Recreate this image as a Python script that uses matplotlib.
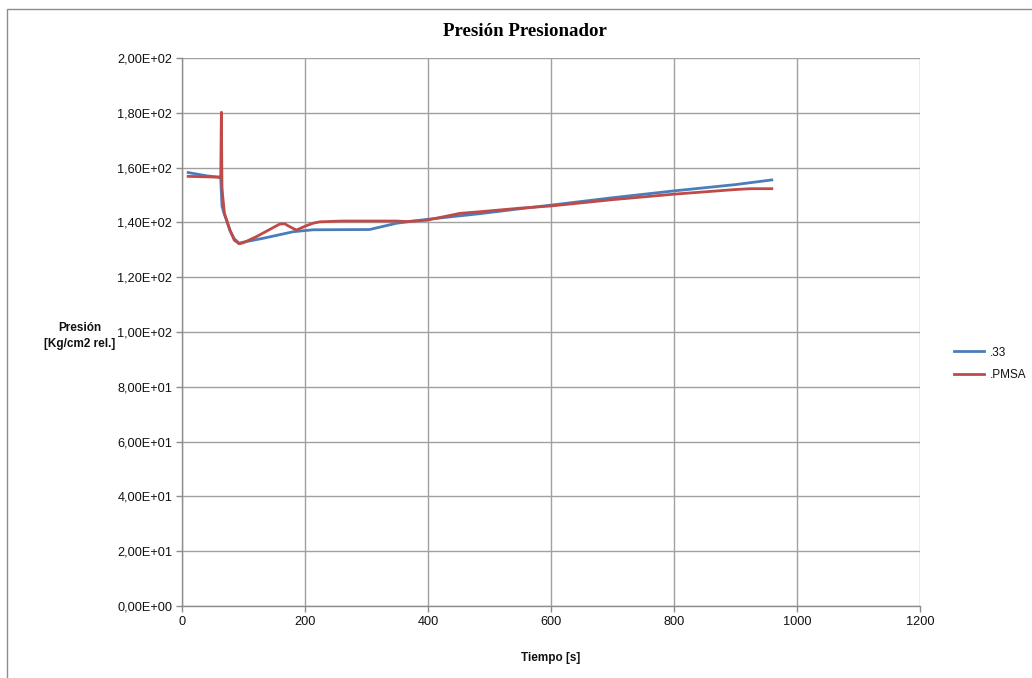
import matplotlib
matplotlib.use("Agg")
import matplotlib.pyplot as plt
from matplotlib.patches import Rectangle
from matplotlib.ticker import FuncFormatter, MultipleLocator

# Series ".33"
t_33 = [10, 40, 60, 63, 65, 68, 72, 78, 85, 93, 100, 132, 181, 213, 305,
        349, 398, 485, 550, 600, 700, 800, 900, 959]
p_33 = [158.2, 157.0, 156.5, 156.0, 146.0, 143.5, 141.0, 137.0, 134.0, 132.4,
        132.8, 134.2, 136.6, 137.3, 137.4, 139.7, 141.1, 143.2, 145.0, 146.3,
        149.0, 151.5, 153.8, 155.5]

# Series ".PMSA"
t_pmsa = [10, 62, 63, 64, 65, 66, 69, 78, 85, 93, 100, 121, 159, 167, 173,
          186, 200, 213, 224, 260, 349, 365, 398, 452, 485, 550, 600, 700,
          800, 900, 924, 959]
p_pmsa = [156.8, 156.5, 156.5, 180.2, 153.0, 150.0, 143.3, 137.2, 133.5,
          132.2, 132.6, 134.8, 139.4, 139.5, 138.7, 137.2, 138.6, 139.7, 140.2,
          140.5, 140.5, 140.3, 140.8, 143.3, 143.9, 145.2, 146.0, 148.3, 150.3,
          152.0, 152.3, 152.3]

series_names = [".33", ".PMSA"]
series_colors = ["#4a7ebb", "#be4b48"]

title = "Presión Presionador"
x_label = "Tiempo [s]"
y_label = "Presión\n[Kg/cm2 rel.]"

sans = ["Liberation Sans", "DejaVu Sans"]

fig = plt.figure(figsize=(10.32, 6.78), dpi=100)
fig.patch.set_facecolor("white")

# chart-area border
fig.add_artist(Rectangle((7 / 1032, -0.05), 1.1, 1 - 9 / 678 + 0.05,
                         transform=fig.transFigure, fill=False,
                         edgecolor="#8c8c8c", linewidth=1.0))

ax = fig.add_axes([182 / 1032, 1 - 606 / 678, (920 - 182) / 1032, (606 - 58) / 678])

ax.plot(t_33, p_33, color=series_colors[0], linewidth=2.0, label=series_names[0],
        solid_joinstyle="round", zorder=3)
ax.plot(t_pmsa, p_pmsa, color=series_colors[1], linewidth=2.0, label=series_names[1],
        solid_joinstyle="round", zorder=4)

ax.set_xlim(0, 1200)
ax.set_ylim(0, 200)
ax.xaxis.set_major_locator(MultipleLocator(200))
ax.yaxis.set_major_locator(MultipleLocator(20))
ax.yaxis.set_major_formatter(FuncFormatter(lambda v, _: f"{v:.2E}".replace(".", ",")))

ax.grid(True, color="#a0a0a0", linewidth=1.0)
ax.set_axisbelow(True)
for side in ("top", "right"):
    ax.spines[side].set_visible(False)
for side in ("left", "bottom"):
    ax.spines[side].set_color("#8c8c8c")
    ax.spines[side].set_linewidth(1.0)

ax.tick_params(axis="both", direction="out", length=4, width=1.0, color="#8c8c8c",
               labelsize=9.2, labelcolor="#111111", pad=3)
for lbl in ax.get_xticklabels() + ax.get_yticklabels():
    lbl.set_family(sans)

fig.text(525 / 1032, 1 - 31 / 678, title, ha="center", va="center",
         family=["Liberation Serif", "DejaVu Serif"], fontweight="bold", fontsize=13.6)
fig.text(551 / 1032, 1 - 658 / 678, x_label, ha="center", va="center",
         family=sans, fontweight="bold", fontsize=8.5, color="#111111")
fig.text(80 / 1032, 1 - 336 / 678, y_label, ha="center", va="center",
         family=sans, fontweight="bold", fontsize=8.5, color="#111111",
         linespacing=1.5)

leg = ax.legend(loc="upper left", bbox_to_anchor=(943 / 1032, 1 - 336 / 678),
                bbox_transform=fig.transFigure, frameon=False,
                handlelength=2.6, handletextpad=0.5, labelspacing=0.9,
                prop={"family": sans, "size": 8.5})
for txt in leg.get_texts():
    txt.set_color("#111111")

fig.savefig("out.png", dpi=100, facecolor="white")
